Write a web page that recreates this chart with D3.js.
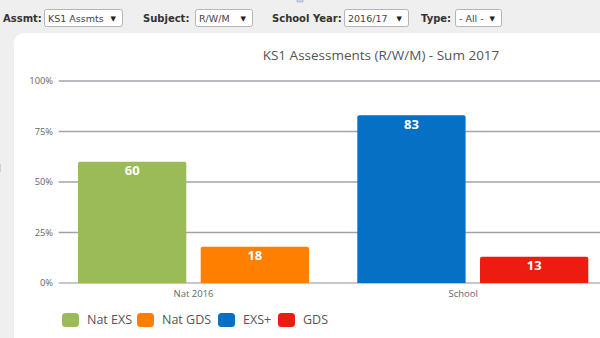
<!DOCTYPE html>
<html>
<head>
<meta charset="utf-8">
<script src="https://cdn.jsdelivr.net/npm/d3@7"></script>
<style>
  html, body { margin: 0; padding: 0; background: #efefef; }
  svg { display: block; }
</style>
</head>
<body>
<svg id="chart" width="600" height="338"></svg>
<script>
// Filter bar contents
const filterLabels = ["Assmt:", "Subject:", "School Year:", "Type:"];
const filterValues = ["KS1 Assmts", "R/W/M", "2016/17", "- All -"];

// Chart data
const chartTitle = "KS1 Assessments (R/W/M) - Sum 2017";
const categories = ["Nat 2016", "School"];
const seriesNames = ["Nat EXS", "Nat GDS", "EXS+", "GDS"];
const seriesColors = ["#9bbb59", "#ff7f00", "#0670c5", "#ec1d10"];
const seriesCategory = ["Nat 2016", "Nat 2016", "School", "School"];
const seriesValues = [60, 18, 83, 13];
const yTicks = [0, 25, 50, 75, 100];
const yTickLabels = ["0%", "25%", "50%", "75%", "100%"];

const svg = d3.select("#chart");

// ---- filter bar ----
const filterLayout = [
  { lx: 3, bx: 44, bw: 78 },
  { lx: 143, bx: 195, bw: 57 },
  { lx: 272, bx: 344, bw: 64 },
  { lx: 421, bx: 455, bw: 46 }
];
const fb = svg.append("g");
filterLabels.forEach((lab, i) => {
  const L = filterLayout[i];
  fb.append("text").attr("x", L.lx).attr("y", 22)
    .attr("font-family", "DejaVu Sans, Verdana, sans-serif")
    .attr("font-size", 10).attr("font-weight", "bold")
    .attr("fill", "#333").text(lab);
  fb.append("rect").attr("x", L.bx + 0.5).attr("y", 9.5)
    .attr("width", L.bw).attr("height", 17).attr("rx", 2)
    .attr("fill", "#fff").attr("stroke", "#b5b5b5");
  fb.append("text").attr("x", L.bx + 4).attr("y", 22)
    .attr("font-family", "DejaVu Sans, Verdana, sans-serif")
    .attr("font-size", 9.5).attr("fill", "#444").text(filterValues[i]);
  fb.append("text").attr("x", L.bx + L.bw - 6).attr("y", 21)
    .attr("text-anchor", "end")
    .attr("font-family", "DejaVu Sans, sans-serif")
    .attr("font-size", 7).attr("fill", "#222").text("\u25BC");
});
// small handle marks at the panel edges
svg.append("rect").attr("x", 297).attr("y", -2).attr("width", 6).attr("height", 4)
  .attr("fill", "#c9d3de").attr("stroke", "#9aaabd").attr("stroke-width", 0.6);
svg.append("rect").attr("x", -2).attr("y", 164).attr("width", 3).attr("height", 8)
  .attr("fill", "#c9d3de");
svg.append("rect").attr("x", 598).attr("y", 164).attr("width", 4).attr("height", 8)
  .attr("fill", "#b9c6d4");

// ---- white chart panel ----
svg.append("rect").attr("x", 14).attr("y", 33)
  .attr("width", 620).attr("height", 340).attr("rx", 10)
  .attr("fill", "#fff");

// ---- scales ----
const plotLeft = 58.7, plotRight = 598;
const y = d3.scaleLinear().domain([0, 100]).range([283, 81]);

// category axis labels sit on evenly split bands
const xAxisScale = d3.scaleBand().domain(categories).range([plotLeft, plotRight]);
// column groups
const xGroup = d3.scaleBand().domain(categories).range([plotLeft, 617.3]);
const xInner = d3.scaleBand().domain([0, 1]).range([19.3, 250.3]).paddingInner(0.1174);

// ---- title ----
svg.append("text").attr("x", 381).attr("y", 60)
  .attr("text-anchor", "middle")
  .attr("font-family", "Open Sans, sans-serif").attr("font-size", 13.5)
  .attr("fill", "#555").text(chartTitle);

// ---- grid and y axis ----
const grid = svg.append("g");
yTicks.forEach((t, i) => {
  grid.append("line")
    .attr("x1", plotLeft).attr("x2", 600)
    .attr("y1", y(t)).attr("y2", y(t))
    .attr("stroke", t === 0 ? "#b4b4bc" : "#a3a3ad").attr("stroke-width", 1.6);
  grid.append("text").attr("x", 53).attr("y", y(t)).attr("dy", "0.35em")
    .attr("text-anchor", "end")
    .attr("font-family", "Open Sans, sans-serif").attr("font-size", 9.3)
    .attr("fill", "#666").text(yTickLabels[i]);
});

// ---- columns ----
const bars = seriesValues.map((v, i) => {
  const cat = seriesCategory[i];
  const idx = seriesCategory.slice(0, i).filter(c => c === cat).length;
  return { name: seriesNames[i], value: v, color: seriesColors[i], cat, idx };
});
const bw = xInner.bandwidth();
const barG = svg.append("g");
bars.forEach(b => {
  const x = xGroup(b.cat) + xInner(b.idx);
  const top = y(b.value), bot = y(0), r = 2;
  barG.append("path")
    .attr("d", `M${x},${bot}V${top + r}Q${x},${top} ${x + r},${top}H${x + bw - r}Q${x + bw},${top} ${x + bw},${top + r}V${bot}Z`)
    .attr("fill", b.color);
  barG.append("text").attr("x", x + bw / 2).attr("y", top + 9).attr("dy", "0.35em")
    .attr("text-anchor", "middle")
    .attr("font-family", "Open Sans, sans-serif").attr("font-size", 13)
    .attr("font-weight", "bold").attr("fill", "#fff").text(b.value);
});

// ---- x axis labels ----
categories.forEach(c => {
  svg.append("text").attr("x", xAxisScale(c) + xAxisScale.bandwidth() / 2).attr("y", 297)
    .attr("text-anchor", "middle")
    .attr("font-family", "Open Sans, sans-serif").attr("font-size", 9.5)
    .attr("fill", "#666").text(c);
});

// ---- legend ----
const legendX = [62, 137, 218, 278];
const lg = svg.append("g");
seriesNames.forEach((n, i) => {
  lg.append("rect").attr("x", legendX[i]).attr("y", 313)
    .attr("width", 17).attr("height", 14).attr("rx", 3.5)
    .attr("fill", seriesColors[i]);
  lg.append("text").attr("x", legendX[i] + 25).attr("y", 320).attr("dy", "0.35em")
    .attr("font-family", "Open Sans, sans-serif").attr("font-size", 12.5)
    .attr("fill", "#555").text(n);
});
</script>
</body>
</html>
